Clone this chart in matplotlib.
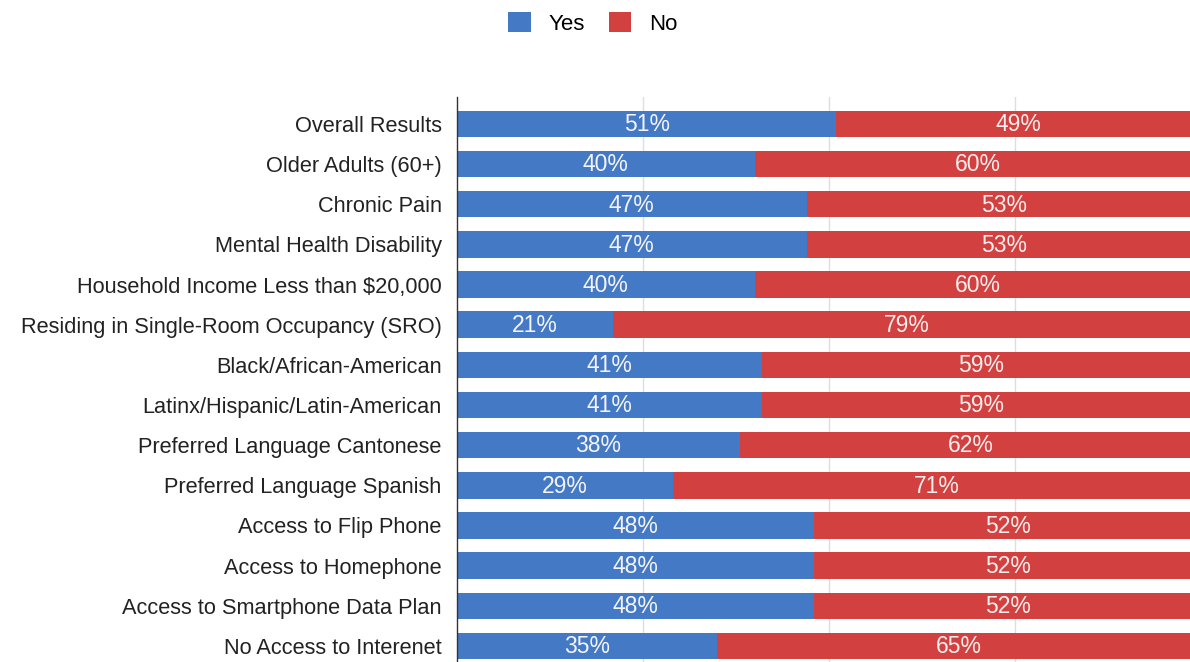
import matplotlib.pyplot as plt
import numpy as np

plt.rcParams['font.family'] = ['Liberation Sans', 'DejaVu Sans']

categories = [
    'Overall Results',
    'Older Adults (60+)',
    'Chronic Pain',
    'Mental Health Disability',
    'Household Income Less than $20,000',
    'Residing in Single-Room Occupancy (SRO)',
    'Black/African-American',
    'Latinx/Hispanic/Latin-American',
    'Preferred Language Cantonese',
    'Preferred Language Spanish',
    'Access to Flip Phone',
    'Access to Homephone',
    'Access to Smartphone Data Plan',
    'No Access to Interenet',
]
yes_pct = [51, 40, 47, 47, 40, 21, 41, 41, 38, 29, 48, 48, 48, 35]
no_pct = [49, 60, 53, 53, 60, 79, 59, 59, 62, 71, 52, 52, 52, 65]

blue = '#4479c6'
red = '#d2413f'

W, H = 1190, 662
fig = plt.figure(figsize=(W / 100, H / 100), dpi=100)
# plot area runs off the right edge, as in the original export
ax = fig.add_axes([457 / W, 0, 744 / W, (662 - 97) / H])

y = np.arange(len(categories))
yes = np.array(yes_pct)
no = np.array(no_pct)

b1 = ax.barh(y, yes, height=0.66, color=blue, label='Yes', zorder=2)
b2 = ax.barh(y, no, left=yes, height=0.66, color=red, label='No', zorder=2)

for i in range(len(categories)):
    ax.text(yes[i] / 2, i + 0.02, f'{yes_pct[i]}%', ha='center', va='center',
            color='#f4f4f4', fontsize=16.5, zorder=4)
    ax.text(yes[i] + no[i] / 2, i + 0.02, f'{no_pct[i]}%', ha='center', va='center',
            color='#f6eeee', fontsize=16.5, zorder=4)

ax.set_xlim(0, 100)
ax.set_ylim(13.4, -0.67)
ax.set_yticks(y)
ax.set_yticklabels(categories, fontsize=15.7, color='#222222')
ax.tick_params(axis='y', length=0, pad=11)
ax.tick_params(axis='x', length=0, labelbottom=False)
ax.set_xticks([25, 50, 75])
# faint gridlines that show through the bars
ax.grid(axis='x', color='#c8c8c8', linewidth=1, alpha=0.6, zorder=3)

for side in ['top', 'right', 'bottom']:
    ax.spines[side].set_visible(False)
ax.spines['left'].set_color('#333333')
ax.spines['left'].set_linewidth(1)
ax.spines['left'].set_zorder(5)

fig.legend(handles=[b1, b2], loc='upper center', bbox_to_anchor=(593 / W, 1.012),
           ncol=2, frameon=False, fontsize=16, handlelength=1.0,
           handleheight=1.0, handletextpad=0.8, columnspacing=1.1)

fig.savefig('out.png', dpi=100)
